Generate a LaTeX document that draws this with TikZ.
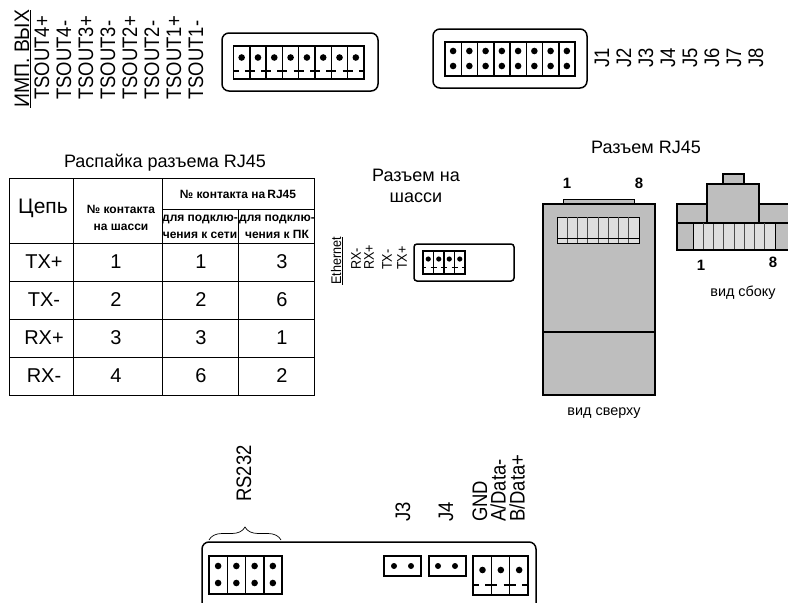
\documentclass[tikz,border=0pt]{standalone}
\usepackage{fontspec}
\setmainfont{Liberation Sans}
\usetikzlibrary{calc,decorations.pathreplacing}
\definecolor{plugbody}{HTML}{BEBEBE}
\definecolor{plugpin}{HTML}{DEDEDE}
\tikzset{
  shell/.style={line width=1.5pt, rounded corners=7pt},
  block/.style={line width=1.5pt},
  pin/.style={fill=black},
  plug/.style={line width=1.4pt, fill=plugbody},
  vlabel/.style={rotate=90, anchor=west, inner sep=0pt, xscale=.88, font=\fontsize{21}{21}\selectfont},
  slabel/.style={rotate=90, anchor=west, inner sep=0pt, xscale=.9, font=\fontsize{14}{14}\selectfont},
  cell/.style={inner sep=0pt, font=\fontsize{20}{20}\selectfont},
  head/.style={inner sep=0pt, align=center, font=\bfseries\fontsize{12}{17}\selectfont},
  caption/.style={inner sep=0pt, align=center, font=\fontsize{18}{21}\selectfont},
  small/.style={inner sep=0pt, font=\fontsize{14.4}{14.4}\selectfont},
  digit/.style={inner sep=0pt, font=\bfseries\fontsize{15}{15}\selectfont}
}
\begin{document}
\begin{tikzpicture}[x=1pt,y=-1pt]
\useasboundingbox (0,0) rectangle (788,603);

% output terminal
\node[vlabel, xscale=1.05] (imp) at (23,108) {\underline{ИМП. ВЫХ}};
\foreach[count=\i] \t in {TSOUT4+,TSOUT4-,TSOUT3+,TSOUT3-,TSOUT2+,TSOUT2-,TSOUT1+,TSOUT1-} {
  \node[vlabel] (ts\i) at ({42+22*(\i-1)},100) {\t};
}
\draw[shell] (222,33) rectangle (378,91);
\draw[block] (233.5,46) rectangle (364,79);
\foreach[evaluate=\k as \xk using {233.5+16.31*\k}] \k in {0,...,7} {
  \draw[block] (\xk,46) -- (\xk,79);
  \fill[pin] ({\xk+8.15},57.5) circle (3.3);
}
\begin{scope}
\clip (233.5,46) rectangle (364,79);
\foreach[evaluate=\k as \xk using {233.5+16.31*\k}] \k in {0,...,8} {
  \draw[line width=1.3pt] ({\xk-5},71) -- ({\xk+5},71);
}
\end{scope}

% jumpers
\draw[shell] (433,29) rectangle (587,88);
\draw[block] (445,42) rectangle (575,76);
\foreach[evaluate=\k as \xk using {445+16.25*\k}] \k in {0,...,7} {
  \draw[block] (\xk,42) -- (\xk,76);
  \fill[pin] ({\xk+8.1},51) circle (3.3);
  \fill[pin] ({\xk+8.1},66) circle (3.3);
}
\foreach \k in {1,...,8} {
  \node[vlabel] (j\k) at ({602+22*(\k-1)},68) {J\k};
}

% pinout table
\node[caption] (title) at (165,163) {Распайка разъема RJ45};
\draw[line width=1pt] (9,178) rectangle (314,395);
\draw[line width=1pt] (73,178) -- (73,395) (162,178) -- (162,395) (238,209) -- (238,395)
  (162,209) -- (314,209) (9,243) -- (314,243) (9,281) -- (314,281) (9,319) -- (314,319) (9,357) -- (314,357);
\node[cell, font=\fontsize{21}{21}\selectfont] (chain) at (43,208) {Цепь};
\node[head] (chassis) at (121,218) {№ контакта\\на шасси};
\node[head] (onplug) at (238,194) {№ контакта на\,RJ45};
\node[head] (net) at (200,227) {для подклю-\\чения к сети};
\node[head] (pc) at (277,227) {для подклю-\\чения к ПК};
\foreach[count=\r] \a/\b/\c/\d in {TX+/1/1/3,TX-/2/2/6,RX+/3/3/1,RX-/4/6/2} {
  \node[cell] (a\r) at (44,{224+38*\r}) {\a};
  \node[cell] (b\r) at (116,{224+38*\r}) {\b};
  \node[cell] (c\r) at (201,{224+38*\r}) {\c};
  \node[cell] (d\r) at (282,{224+38*\r}) {\d};
}

% chassis connector
\node[caption] (socket) at (416,186) {Разъем на\\шасси};
\node[slabel] (eth) at (337,285) {\underline{Ethernet}};
\foreach \t/\x in {RX-/356,RX+/369,TX-/387,TX+/402} {
  \node[slabel] (\t) at (\x,270) {\t};
}
\draw[block, rounded corners=3pt] (414,244) rectangle (514,281);
\draw[block] (423,251) rectangle (465,274);
\foreach[evaluate=\k as \xk using {423+10.5*\k}] \k in {0,...,3} {
  \draw[block] (\xk,251) -- (\xk,274);
  \fill[pin] ({\xk+5.25},259) circle (2.6);
}
\begin{scope}
\clip (423,251) rectangle (465,274);
\foreach[evaluate=\k as \xk using {423+10.5*\k}] \k in {0,...,4} {
  \draw[line width=1pt] ({\xk-3},267) -- ({\xk+3},267);
}
\end{scope}

% plug, top view
\node[caption] (plugtitle) at (646,147) {Разъем RJ45};
\node[digit] (t1) at (567,183) {1};
\node[digit] (t8) at (639,183) {8};
\draw[line width=1pt, fill=plugbody] (563,204) rectangle (634,199);
\draw[plug] (543,204) rectangle (655,395);
\draw[line width=1.1pt] (543,332) -- (655,332);
\draw[line width=.8pt, fill=plugpin] (557,217) rectangle (639,243);
\foreach[evaluate=\k as \xk using {557+10.25*\k}] \k in {1,...,7} {
  \draw[line width=.8pt, black!70] (\xk,217) -- (\xk,243);
}
\draw[line width=.8pt] (557,238) -- (639,238);
\node[small] (top) at (604,413) {вид сверху};

% plug, side view
\draw[line width=1.1pt, fill=plugbody] (723,174) rectangle (744,184);
\draw[plug] (677,204) rectangle (800,250);
\draw[line width=1.1pt] (677,223) -- (800,223);
\draw[line width=.8pt, fill=plugpin] (693,223) rectangle (775,250);
\foreach[evaluate=\k as \xk using {693+10.25*\k}] \k in {1,...,7} {
  \draw[line width=.8pt, black!70] (\xk,223) -- (\xk,250);
}
\draw[plug] (707,184) rectangle (759,223);
\draw[plug, fill=none] (677,250) -- (800,250);
\node[digit] (s1) at (701,265) {1};
\node[digit] (s8) at (773,262) {8};
\node[small] (side) at (743,293) {вид сбоку};

% bottom board
\node[vlabel] (rs) at (244,502) {RS232};
\node[vlabel] (j3) at (403,522) {J3};
\node[vlabel] (j4) at (446,522) {J4};
\node[vlabel] (gnd) at (480,522) {GND};
\node[vlabel] (adata) at (498,522) {A/Data-};
\node[vlabel] (bdata) at (517,522) {B/Data+};
\draw[decorate, decoration={brace, amplitude=13pt}, line width=.7pt] (209,540) -- (281,540);
\draw[shell] (202,620) -- (202,542) -- (536,542) -- (536,620);
\draw[block] (209,556) rectangle (282,594);
\foreach[evaluate=\k as \xk using {209+18.25*\k}] \k in {0,...,3} {
  \draw[block] (\xk,556) -- (\xk,594);
  \fill[pin] ({\xk+9.1},566) circle (3.3);
  \fill[pin] ({\xk+9.1},583) circle (3.3);
}
\draw[block] (384,556) rectangle (421,576);
\fill[pin] (394,566) circle (3) (411,566) circle (3);
\draw[block] (429,556) rectangle (466,576);
\fill[pin] (438,566) circle (3) (455,566) circle (3);
\draw[block] (473,556) rectangle (528,595);
\foreach[evaluate=\k as \xk using {473+18.33*\k}] \k in {0,...,2} {
  \draw[block] (\xk,556) -- (\xk,595);
  \fill[pin] ({\xk+9.5},570) circle (3.3);
}
\begin{scope}
\clip (473,556) rectangle (528,595);
\foreach[evaluate=\k as \xk using {473+18.33*\k}] \k in {0,...,3} {
  \draw[line width=1.3pt] ({\xk-6},585) -- ({\xk+6},585);
}
\end{scope}
\end{tikzpicture}
\end{document}
